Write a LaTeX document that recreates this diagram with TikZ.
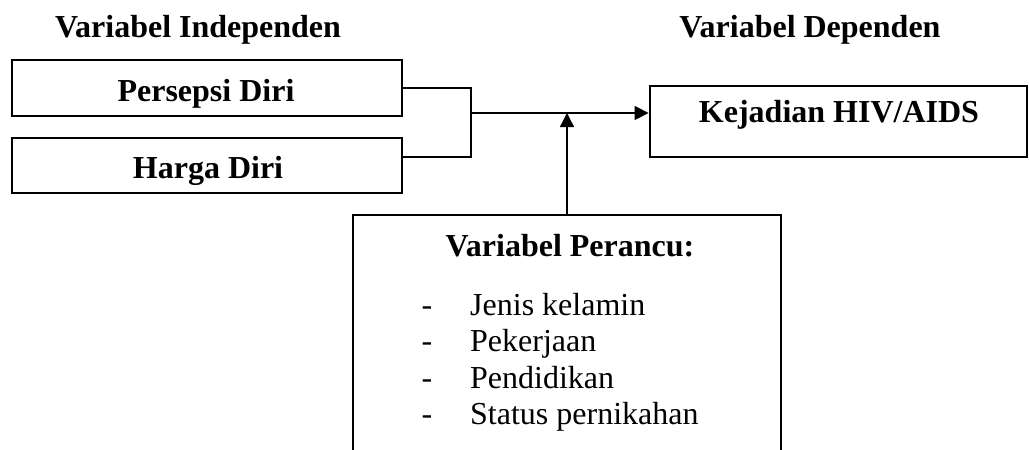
\documentclass[tikz,border=0pt]{standalone}
\usepackage{fontspec}
\setmainfont{Liberation Serif}
\usetikzlibrary{arrows.meta}
\begin{document}
\begin{tikzpicture}[x=1pt,y=-1pt,
  box/.style={draw, line width=2.8pt, inner sep=0pt},
  link/.style={draw, line width=1.4pt},
  txt/.style={font=\fontsize{32}{38}\selectfont, inner sep=0pt, anchor=base},
  hd/.style={txt, font=\fontsize{32}{38}\selectfont\bfseries},
  tip/.style={-{Triangle[length=14pt,width=14pt]}}
]
\useasboundingbox (0,0) rectangle (1029,450);
\clip (0,0) rectangle (1029,450);

% column headings
\node[hd] (hind) at (198,37) {Variabel Independen};
\node[hd] (hdep) at (810,37) {Variabel Dependen};

% independent variables
\node[box, minimum width=390pt, minimum height=56pt] (persepsi) at (207,88) {};
\node[hd] (tpersepsi) at (206,101) {Persepsi Diri};
\node[box, minimum width=390pt, minimum height=55pt] (harga) at (207,165.5) {};
\node[hd] (tharga) at (208,178) {Harga Diri};

% dependent variable
\node[box, minimum width=377pt, minimum height=71pt] (kejadian) at (838.5,121.5) {};
\node[hd] (tkejadian) at (839,122) {Kejadian HIV/AIDS};

% confounding variables
\node[box, minimum width=428pt, minimum height=270pt] (perancu) at (567,350) {};
\node[hd] (tperancu) at (570,256) {Variabel Perancu:};
\foreach \y/\t [count=\i] in {315/Jenis kelamin, 351.5/Pekerjaan, 388/Pendidikan, 424.5/Status pernikahan}{
  \node[txt] (dash\i) at (427,\y) {-};
  \node[txt, anchor=base west] (item\i) at (470,\y) {\t};
}

% connectors
\coordinate (jb) at (471,157);
\coordinate (jm) at (471,113);
\draw[link] (persepsi.east) -| (jb) -- (jb -| harga.east);
\draw[link, tip] (jm) -- (jm -| kejadian.west);
\draw[link, tip] (perancu.north) -- (perancu.north |- jm);
\end{tikzpicture}
\end{document}
